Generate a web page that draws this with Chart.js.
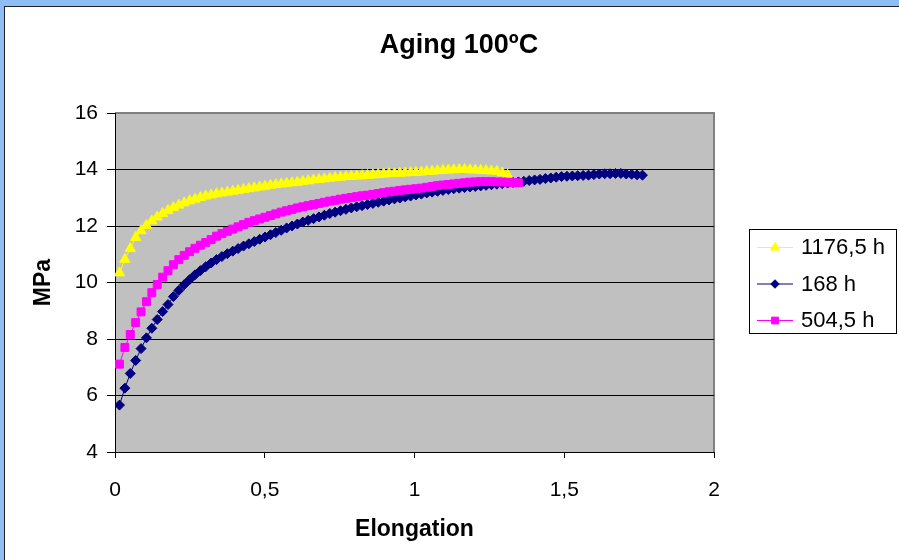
<!DOCTYPE html>
<html>
<head>
<meta charset="utf-8">
<script src="https://cdn.jsdelivr.net/npm/chart.js@4.4.1/dist/chart.umd.min.js"></script>
<style>
  html, body { margin: 0; padding: 0; }
  body { width: 899px; height: 560px; background: #8fbdf6; position: relative; overflow: hidden; }
  #frame { position: absolute; left: 4px; top: 6px; right: -2px; bottom: -2px; background: #fff;
           border-left: 1px solid #222; border-top: 1px solid #222; }
  #c { position: absolute; left: 0; top: 0; }
</style>
</head>
<body>
<div id="frame"></div>
<canvas id="c" width="899" height="560"></canvas>
<script>
'use strict';

// ---- data ----
const chartTitle = 'Aging 100ºC';
const xTitle = 'Elongation';
const yTitle = 'MPa';
const seriesNames = ['1176,5 h', '168 h', '504,5 h'];

const xTicks = [0, 0.5, 1, 1.5, 2];
const xTickLabels = ['0', '0,5', '1', '1,5', '2'];
const yTicks = [4, 6, 8, 10, 12, 14, 16];

// elongation of each sample point (shared by the three tests)
const elongation = [
  0.015, 0.033, 0.051, 0.069, 0.087, 0.105, 0.123, 0.141, 0.159, 0.177,
  0.195, 0.213, 0.231, 0.249, 0.267, 0.285, 0.303, 0.321, 0.339, 0.357,
  0.375, 0.393, 0.411, 0.429, 0.447, 0.465, 0.483, 0.501, 0.519, 0.537,
  0.555, 0.573, 0.591, 0.609, 0.627, 0.645, 0.663, 0.681, 0.699, 0.717,
  0.735, 0.753, 0.771, 0.789, 0.807, 0.825, 0.843, 0.861, 0.879, 0.897,
  0.915, 0.933, 0.951, 0.969, 0.987, 1.005, 1.023, 1.041, 1.059, 1.077,
  1.095, 1.113, 1.131, 1.149, 1.167, 1.185, 1.203, 1.221, 1.239, 1.257,
  1.275, 1.293, 1.311, 1.329, 1.347, 1.365, 1.383, 1.401, 1.419, 1.437,
  1.455, 1.473, 1.491, 1.509, 1.527, 1.545, 1.563, 1.581, 1.599, 1.617,
  1.635, 1.653, 1.671, 1.689, 1.707, 1.725, 1.743, 1.761
];

const mpa1176 = [
  10.34, 10.82, 11.20, 11.59, 11.83, 12.02, 12.18, 12.32, 12.44, 12.55,
  12.65, 12.74, 12.82, 12.89, 12.95, 13.01, 13.06, 13.10, 13.14, 13.17,
  13.20, 13.23, 13.26, 13.29, 13.32, 13.35, 13.38, 13.41, 13.44, 13.47,
  13.49, 13.51, 13.53, 13.55, 13.58, 13.60, 13.63, 13.65, 13.67, 13.69,
  13.71, 13.73, 13.75, 13.76, 13.77, 13.78, 13.79, 13.81, 13.82, 13.84,
  13.85, 13.86, 13.87, 13.88, 13.89, 13.90, 13.91, 13.93, 13.94, 13.96,
  13.97, 13.98, 13.99, 14.00, 14.00, 13.99, 13.98, 13.97, 13.96, 13.95,
  13.94, 13.88, 13.80
];

const mpa168 = [
  5.66, 6.26, 6.78, 7.24, 7.66, 8.04, 8.38, 8.69, 8.97, 9.22,
  9.50, 9.72, 9.92, 10.10, 10.27, 10.42, 10.56, 10.69, 10.81, 10.92,
  11.02, 11.11, 11.20, 11.29, 11.37, 11.45, 11.53, 11.61, 11.69, 11.77,
  11.85, 11.93, 12.00, 12.07, 12.14, 12.20, 12.26, 12.32, 12.38, 12.44,
  12.49, 12.54, 12.59, 12.64, 12.68, 12.72, 12.76, 12.80, 12.84, 12.88,
  12.92, 12.96, 12.99, 13.03, 13.06, 13.10, 13.13, 13.17, 13.20, 13.23,
  13.26, 13.29, 13.32, 13.34, 13.36, 13.38, 13.40, 13.42, 13.44, 13.46,
  13.48, 13.50, 13.52, 13.54, 13.56, 13.58, 13.61, 13.63, 13.65, 13.68,
  13.70, 13.73, 13.75, 13.76, 13.77, 13.78, 13.79, 13.80, 13.82, 13.84,
  13.85, 13.85, 13.86, 13.86, 13.84, 13.83, 13.81, 13.80
];

const mpa504 = [
  7.11, 7.70, 8.16, 8.58, 8.96, 9.32, 9.64, 9.93, 10.19, 10.42,
  10.63, 10.81, 10.96, 11.09, 11.21, 11.32, 11.42, 11.52, 11.64, 11.73,
  11.81, 11.89, 11.97, 12.05, 12.13, 12.19, 12.25, 12.31, 12.37, 12.43,
  12.49, 12.54, 12.59, 12.64, 12.68, 12.72, 12.76, 12.80, 12.84, 12.88,
  12.91, 12.95, 12.98, 13.01, 13.04, 13.07, 13.09, 13.12, 13.15, 13.18,
  13.21, 13.23, 13.26, 13.28, 13.30, 13.32, 13.34, 13.37, 13.40, 13.43,
  13.45, 13.47, 13.49, 13.51, 13.53, 13.55, 13.56, 13.57, 13.57, 13.57,
  13.56, 13.56, 13.55, 13.54, 13.53
];

// ---- look ----
const FONT = "'Liberation Sans', Arial, sans-serif";
const plotBox = { left: 115, top: 113, right: 714, bottom: 452 };
const colors = ['#ffff00', '#000080', '#ff00ff'];
const styles = [
  { pointStyle: 'triangle', radius: 6 },
  { pointStyle: 'rectRot', radius: 5 },
  { pointStyle: 'rect', radius: 5.6 }
];

const pts = ys => ys.map((y, i) => ({ x: elongation[i], y }));
const seriesData = [mpa1176, mpa168, mpa504];

const datasets = seriesData.map((ys, i) => ({
  label: seriesNames[i],
  data: pts(ys),
  showLine: true,
  borderColor: colors[i],
  backgroundColor: colors[i],
  borderWidth: 1,
  pointStyle: styles[i].pointStyle,
  pointRadius: styles[i].radius,
  pointBorderWidth: 1,
  pointBorderColor: colors[i],
  pointBackgroundColor: colors[i],
  order: 2 - i   // Excel draws later series on top
}));

function marker(ctx, style, r, x, y, color) {
  ctx.save();
  ctx.fillStyle = color; ctx.strokeStyle = color; ctx.lineWidth = 1;
  ctx.beginPath();
  if (style === 'triangle') {
    ctx.moveTo(x, y - r); ctx.lineTo(x + r * 0.866, y + r * 0.5); ctx.lineTo(x - r * 0.866, y + r * 0.5);
  } else if (style === 'rectRot') {
    ctx.moveTo(x - r, y); ctx.lineTo(x, y - r); ctx.lineTo(x + r, y); ctx.lineTo(x, y + r);
  } else {
    const h = r * Math.SQRT1_2; ctx.rect(x - h, y - h, 2 * h, 2 * h);
  }
  ctx.closePath(); ctx.fill(); ctx.stroke();
  ctx.restore();
}

const plotBg = {
  id: 'plotBg',
  beforeDraw(chart) {
    const { ctx, chartArea: a } = chart;
    ctx.save();
    ctx.fillStyle = '#c0c0c0';
    ctx.fillRect(a.left, a.top, a.right - a.left, a.bottom - a.top);
    ctx.strokeStyle = '#808080'; ctx.lineWidth = 2;
    ctx.beginPath();
    ctx.moveTo(a.left, a.top); ctx.lineTo(a.right, a.top); ctx.lineTo(a.right, a.bottom);
    ctx.stroke();
    ctx.restore();
  }
};

const titleLegend = {
  id: 'titleLegend',
  afterDraw(chart) {
    const ctx = chart.ctx;
    ctx.save();
    ctx.fillStyle = '#000';
    ctx.font = 'bold 27px ' + FONT;
    ctx.textAlign = 'center'; ctx.textBaseline = 'middle';
    ctx.fillText(chartTitle, 459, 46);

    // legend box
    ctx.fillStyle = '#fff'; ctx.strokeStyle = '#000'; ctx.lineWidth = 1;
    ctx.fillRect(749.5, 229.5, 147, 104);
    ctx.strokeRect(749.5, 229.5, 147, 104);
    ctx.font = '22px ' + FONT;
    ctx.textAlign = 'left';
    chart.data.datasets.forEach((ds, i) => {
      const y = 247 + i * 36.5;
      ctx.strokeStyle = ds.borderColor;
      ctx.beginPath(); ctx.moveTo(757, y + 0.5); ctx.lineTo(793, y + 0.5); ctx.stroke();
      marker(ctx, ds.pointStyle, ds.pointRadius * 0.85, 775, y + 0.5, ds.borderColor);
      ctx.fillStyle = '#000';
      ctx.fillText(ds.label, 801, y + 1);
    });
    ctx.restore();
  }
};

new Chart(document.getElementById('c'), {
  type: 'scatter',
  data: { datasets },
  options: {
    responsive: false,
    animation: false,
    devicePixelRatio: 1,
    layout: { padding: { left: 0, top: plotBox.top, right: 899 - plotBox.right, bottom: 0 } },
    plugins: { legend: { display: false }, tooltip: { enabled: false }, title: { display: false } },
    scales: {
      x: {
        type: 'linear', min: 0, max: 2,
        afterFit: s => { s.height = 560 - plotBox.bottom; },
        afterBuildTicks: s => { s.ticks = xTicks.map(v => ({ value: v })); },
        ticks: {
          callback: (v, i) => xTickLabels[i],
          color: '#000', font: { family: FONT, size: 21 }, padding: 20, maxRotation: 0
        },
        grid: { drawOnChartArea: false, drawTicks: true, tickLength: 6, color: '#000' },
        border: { color: '#000', width: 1 },
        title: { display: true, text: xTitle, color: '#000',
                 font: { family: FONT, size: 23, weight: 'bold' }, padding: { top: 0, bottom: 17 } }
      },
      y: {
        type: 'linear', min: 4, max: 16,
        afterFit: s => { s.width = plotBox.left; },
        afterBuildTicks: s => { s.ticks = yTicks.map(v => ({ value: v })); },
        ticks: { color: '#000', font: { family: FONT, size: 21 }, padding: 9 },
        grid: {
          color: c => (c.tick && c.tick.value === 16 ? '#808080' : '#000'),
          tickColor: '#000', tickLength: 8, lineWidth: 1
        },
        border: { color: '#000', width: 1 },
        title: { display: true, text: yTitle, color: '#000',
                 font: { family: FONT, size: 23, weight: 'bold' }, padding: { top: 30, bottom: 0 } }
      }
    }
  },
  plugins: [plotBg, titleLegend]
});
</script>
</body>
</html>
